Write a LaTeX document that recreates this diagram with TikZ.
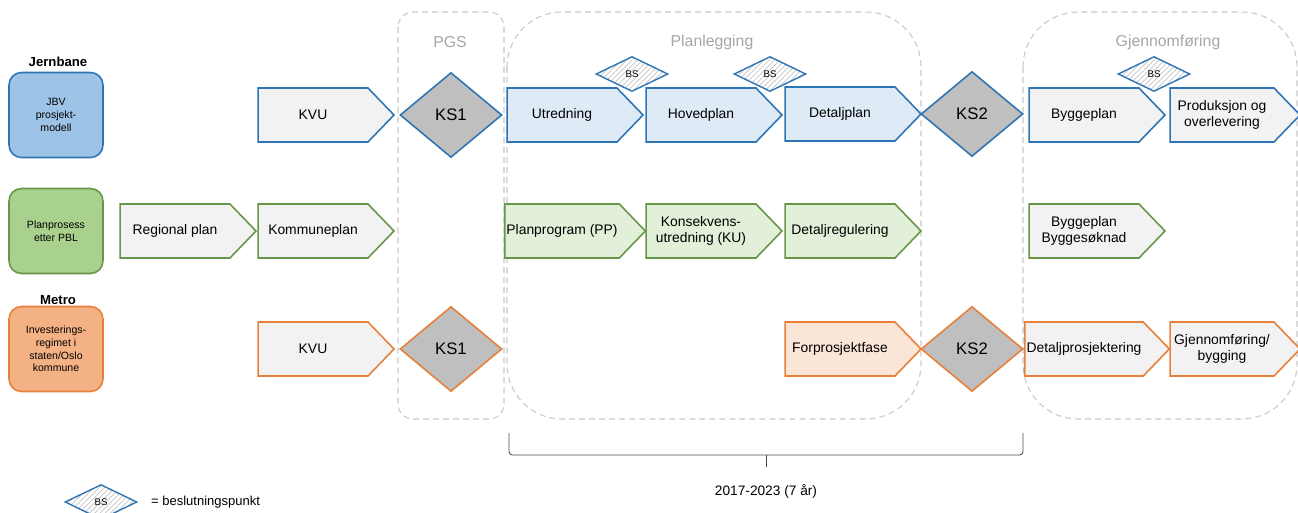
\documentclass[tikz,border=0pt]{standalone}
\usepackage{fontspec}
\setmainfont{Liberation Sans}
\usepackage{xcolor}
\usetikzlibrary{shapes.geometric, shapes.symbols, patterns}
\definecolor{jbvblue}{RGB}{46,117,182}
\definecolor{jbvfill}{RGB}{157,195,230}
\definecolor{lightblue}{RGB}{222,235,247}
\definecolor{pblgreen}{RGB}{104,150,72}
\definecolor{pblfill}{RGB}{169,209,142}
\definecolor{lightgreen}{RGB}{226,240,217}
\definecolor{metroorange}{RGB}{230,128,58}
\definecolor{metrofill}{RGB}{244,177,131}
\definecolor{lightorange}{RGB}{251,229,214}
\definecolor{phasegray}{RGB}{242,242,242}
\definecolor{ksgray}{RGB}{191,191,191}
\definecolor{groupgray}{RGB}{200,200,200}
\definecolor{labelgray}{RGB}{166,166,166}

\begin{document}
\begin{tikzpicture}[x=0.02cm, y=-0.02cm,
  phase/.style={signal, signal to=east, signal from=nowhere, signal pointer angle=92,
    draw, line width=0.9pt, fill=phasegray, minimum width=2.72cm, minimum height=1.08cm,
    inner sep=1pt, align=center, font=\fontsize{7.9}{9}\selectfont},
  gate/.style={diamond, draw, line width=0.9pt, fill=ksgray, minimum width=2.04cm,
    minimum height=1.7cm, inner sep=0pt, font=\fontsize{9.5}{11}\selectfont},
  bs/.style={diamond, draw=jbvblue, line width=0.8pt, preaction={fill=white},
    pattern=north east lines, pattern color=gray!45, minimum width=1.44cm,
    minimum height=0.7cm, inner sep=0pt, font=\fontsize{5.5}{6}\selectfont},
  track/.style={rectangle, rounded corners=0.25cm, draw, line width=0.9pt,
    minimum width=1.88cm, minimum height=1.7cm, align=center,
    font=\fontsize{6}{7.2}\selectfont},
  groupbox/.style={draw=groupgray, line width=0.6pt, dash pattern=on 3.4pt off 2.3pt},
  grouplabel/.style={text=labelgray, font=\fontsize{9}{11}\selectfont}]
  \useasboundingbox (0,0) rectangle (1298,513);

  %The dashed phase groups with their titles:
  \draw[groupbox, rounded corners=0.3cm] (398,12) rectangle (504,419);
  \draw[groupbox, rounded corners=1.1cm] (507,12) rectangle (921,419);
  \draw[groupbox, rounded corners=1.1cm] (1023,12) rectangle (1297,419);
  \node[grouplabel] (pgs) at (450,42) {PGS};
  \node[grouplabel] (planlegging) at (712,42) {Planlegging};
  \node[grouplabel] (gjennomforing) at (1168,42) {Gjennomføring};

  %Jernbane:
  \node[font=\bfseries\fontsize{7.5}{9}\selectfont] (jernbane) at (58,62) {Jernbane};
  \node[track, draw=jbvblue, fill=jbvfill] (jbv) at (56,115) {JBV\\prosjekt-\\modell};
  \node[phase, draw=jbvblue] (kvu1) at (313,115) {KVU};
  \node[gate, draw=jbvblue] (ks1a) at (451,115) {KS1};
  \node[phase, draw=jbvblue, fill=lightblue] (utredning) at (562,115) {Utredning};
  \node[phase, draw=jbvblue, fill=lightblue] (hovedplan) at (701,115) {Hovedplan};
  \node[phase, draw=jbvblue, fill=lightblue] (detaljplan) at (840,114) {Detaljplan};
  \node[gate, draw=jbvblue] (ks2a) at (972,114) {KS2};
  \node[phase, draw=jbvblue] (byggeplan) at (1084,115) {Byggeplan};
  \node[phase, draw=jbvblue, minimum width=2.6cm] (produksjon) at (1222,115) {Produksjon og\\overlevering};
  \foreach \i/\bx in {1/632,2/770,3/1154}{
    \node[bs] (bs\i) at (\bx,74) {BS};
  }

  %Planprosess etter PBL:
  \node[track, draw=pblgreen, fill=pblfill] (pbl) at (56,231) {Planprosess\\etter PBL};
  \node[phase, draw=pblgreen] (regional) at (175,231) {Regional plan};
  \node[phase, draw=pblgreen] (kommuneplan) at (313,231) {Kommuneplan};
  \node[phase, draw=pblgreen, fill=lightgreen] (planprogram) at (562,231) {Planprogram (PP)};
  \node[phase, draw=pblgreen, fill=lightgreen] (konsekvens) at (701,231) {Konsekvens-\\utredning (KU)};
  \node[phase, draw=pblgreen, fill=lightgreen] (detaljreg) at (840,231) {Detaljregulering};
  \node[phase, draw=pblgreen] (byggesoknad) at (1084,231) {Byggeplan\\Byggesøknad};

  %Metro:
  \node[font=\bfseries\fontsize{7.5}{9}\selectfont] (metro) at (58,300) {Metro};
  \node[track, draw=metroorange, fill=metrofill] (investering) at (56,349) {Investerings-\\regimet i\\staten/Oslo\\kommune};
  \node[phase, draw=metroorange] (kvu2) at (313,349) {KVU};
  \node[gate, draw=metroorange] (ks1b) at (451,349) {KS1};
  \node[phase, draw=metroorange, fill=lightorange] (forprosjekt) at (840,349) {Forprosjektfase};
  \node[gate, draw=metroorange] (ks2b) at (972,349) {KS2};
  \node[phase, draw=metroorange] (detaljprosj) at (1084,349) {Detaljprosjektering};
  \node[phase, draw=metroorange, minimum width=2.6cm] (bygging) at (1222,349) {Gjennomføring/\\bygging};

  %The time span under Planlegging:
  \draw[line width=0.5pt, black!70, rounded corners=2pt] (509,433) -- (509,455) -- (1023,455) -- (1023,433);
  \draw[line width=0.5pt, black!70] (766,455) -- (766,467);
  \node[font=\fontsize{7.8}{9}\selectfont] (periode) at (766,491) {2017-2023 (7 år)};

  %Legend:
  \node[bs] (bslegend) at (101,502) {BS};
  \node[anchor=west, font=\fontsize{7.4}{9}\selectfont] (bstext) at (145,502) {= beslutningspunkt};
\end{tikzpicture}
\end{document}
